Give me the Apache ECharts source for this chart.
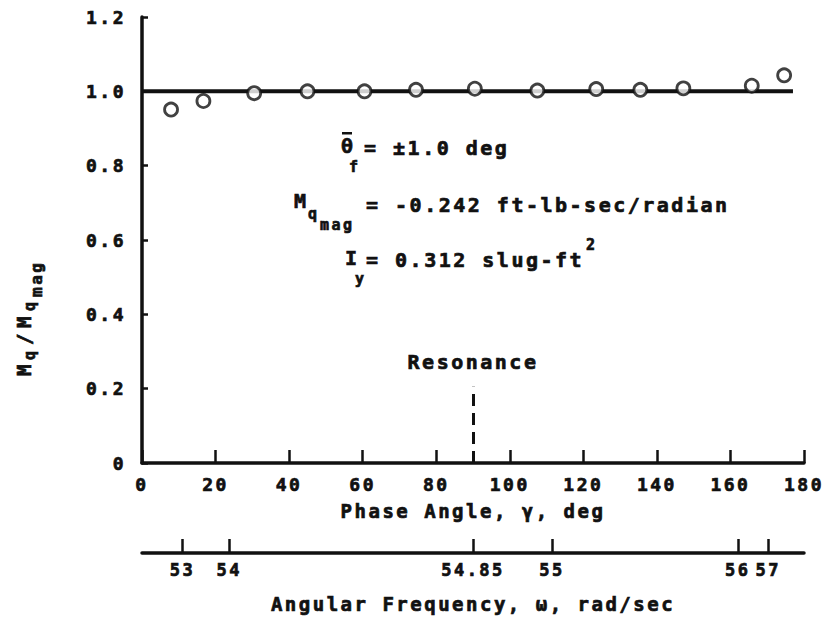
<!DOCTYPE html>
<html>
<head>
<meta charset="utf-8">
<script src="https://cdn.jsdelivr.net/npm/echarts@6/dist/echarts.min.js"></script>
<style>
  html, body { margin: 0; padding: 0; background: #fff; }
  #chart { width: 827px; height: 621px; }
  /* wide typewriter look */
  #chart text { letter-spacing: 2.5px; }
</style>
</head>
<body>
<div id="chart"></div>
<script>
// measured points (phase angle deg, Mq/Mqmag)
const phaseDeg = [7.9, 16.7, 30.5, 45, 60.5, 74.5, 90.5, 107.5, 123.5, 135.5, 147.2, 165.8, 174.6];
const ratio = [0.951, 0.974, 0.995, 1.0, 1.0, 1.004, 1.007, 1.002, 1.006, 1.004, 1.008, 1.015, 1.043];
// faired line
const refLineDeg = [0, 177];
const refLineVal = [1.0, 1.0];
// resonance marker
const resonanceDeg = 90;
const resonanceTop = 0.205;
// lower frequency scale: labels and where they sit on the phase scale
const freqLabels = ['53', '54', '54.85', '55', '56', '57'];
const freqAtPhase = [11, 23.7, 90, 111.5, 162, 170.3];

const FONT = "'DejaVu Sans Mono', monospace";
const INK = '#111';
const HEAVY = { textBorderColor: INK, textBorderWidth: 0.7 };

var chart = echarts.init(document.getElementById('chart'), null, { renderer: 'svg' });

function txt(x, y, s, size) {
  return {
    type: 'text', x: x, y: y, silent: true,
    style: {
      text: s, fontFamily: FONT, fontWeight: 'bold', fontSize: size, fill: INK,
      stroke: INK, lineWidth: 0.7, align: 'left', verticalAlign: 'middle'
    }
  };
}

function textStyle(size) {
  return Object.assign({ fontFamily: FONT, fontWeight: 'bold', fontSize: size, color: INK }, HEAVY);
}

var option = {
  animation: false,
  backgroundColor: '#fff',
  grid: [
    { left: 142, right: 23, top: 17, bottom: 158, outerBoundsMode: 'none' },
    { left: 142, right: 23, top: 552, height: 1, outerBoundsMode: 'none' }
  ],
  xAxis: [{
    type: 'value', gridIndex: 0, min: 0, max: 180, interval: 20,
    name: 'Phase Angle, γ, deg', nameLocation: 'middle', nameGap: 38,
    nameTextStyle: textStyle(19),
    axisLine: { onZero: false, lineStyle: { color: INK, width: 3.5 } },
    axisTick: { inside: true, length: 13, lineStyle: { color: INK, width: 2.5 } },
    axisLabel: Object.assign({ margin: 12, interval: 0 }, textStyle(18)),
    splitLine: { show: false }
  }, {
    type: 'value', gridIndex: 1, min: 0, max: 180, position: 'bottom',
    name: 'Angular Frequency, ω, rad/sec', nameLocation: 'middle', nameGap: 41,
    nameTextStyle: textStyle(19),
    axisLine: { onZero: false, lineStyle: { color: INK, width: 3.5, cap: 'round' } },
    axisTick: { inside: true, length: 14, customValues: freqAtPhase, lineStyle: { color: INK, width: 2.5 } },
    axisLabel: Object.assign({
      margin: 8, customValues: freqAtPhase,
      formatter: function (v) { return freqLabels[freqAtPhase.indexOf(v)]; }
    }, textStyle(17)),
    splitLine: { show: false }
  }],
  yAxis: [{
    type: 'value', gridIndex: 0, min: 0, max: 1.2, interval: 0.2,
    axisLine: { show: true, onZero: false, lineStyle: { color: INK, width: 3.5 } },
    axisTick: { show: true, inside: true, length: 6, lineStyle: { color: INK, width: 2.5 } },
    axisLabel: Object.assign({
      margin: 16,
      formatter: function (v) { return v === 0 ? '0' : v.toFixed(1); }
    }, textStyle(18)),
    splitLine: { show: false }
  }, {
    type: 'value', gridIndex: 1, min: 0, max: 1, show: false
  }],
  series: [{
    type: 'line', xAxisIndex: 0, yAxisIndex: 0,
    data: refLineDeg.map(function (x, i) { return [x, refLineVal[i]]; }),
    symbol: 'none', silent: true,
    lineStyle: { color: INK, width: 4 },
    markLine: {
      silent: true, symbol: ['none', 'none'],
      lineStyle: { color: INK, width: 3, type: [12, 7] },
      label: Object.assign({
        show: true, position: 'end', distance: 15, formatter: 'Resonance'
      }, textStyle(20)),
      data: [[{ coord: [resonanceDeg, 0] }, { coord: [resonanceDeg, resonanceTop] }]]
    },
    z: 2
  }, {
    type: 'scatter', xAxisIndex: 0, yAxisIndex: 0,
    data: phaseDeg.map(function (x, i) { return [x, ratio[i]]; }),
    symbol: 'circle', symbolSize: 13,
    itemStyle: { color: '#fff', borderColor: INK, borderWidth: 2.8 },
    z: 3
  }],
  graphic: { elements: [
    // y axis name  M_q / M_q_mag  (reads bottom to top)
    {
      type: 'group', x: 24, y: 376, rotation: Math.PI / 2, silent: true,
      children: [
        txt(0, 0, 'M', 19),
        txt(16, 6, 'q', 15),
        txt(31, 0, '/', 19),
        txt(48, 0, 'M', 19),
        txt(65, 6, 'q', 15),
        txt(79, 12, 'mag', 16)
      ]
    },
    // parameter block
    txt(341, 146, 'θ', 20),
    { type: 'rect', silent: true, shape: { x: 342, y: 132, width: 10, height: 2.5 }, style: { fill: INK } },
    txt(349, 167, 'f', 15),
    txt(364, 148, '= ±1.0 deg', 20),
    txt(294, 201, 'M', 20),
    txt(308, 214, 'q', 15),
    txt(320, 225, 'mag', 15),
    txt(366, 205, '= -0.242 ft-lb-sec/radian', 20),
    txt(345, 258, 'I', 20),
    txt(355, 279, 'y', 15),
    txt(366, 260, '= 0.312 slug-ft', 20),
    txt(586, 245, '2', 15)
  ] }
};

chart.setOption(option);
</script>
</body>
</html>
